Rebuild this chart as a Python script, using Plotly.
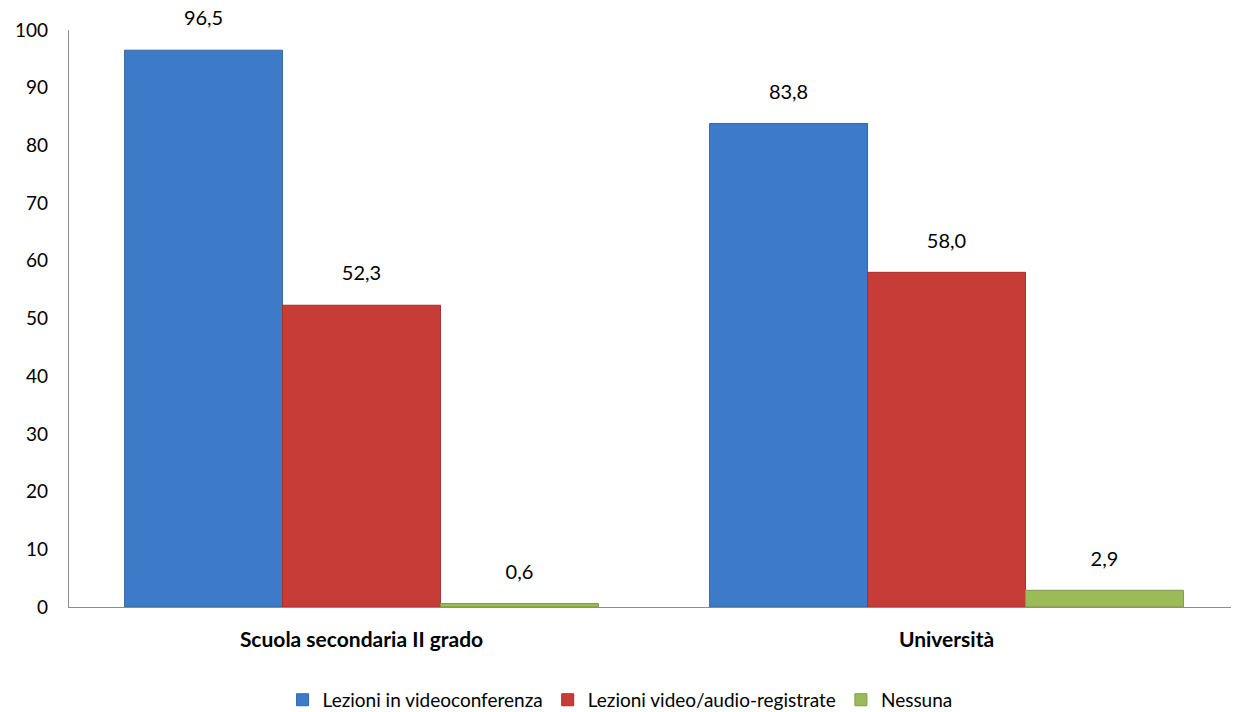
import plotly.graph_objects as go

categories = ["Scuola secondaria II grado", "Università"]
series_names = ["Lezioni in videoconferenza", "Lezioni video/audio-registrate", "Nessuna"]
video_conf = [96.5, 83.8]
registrate = [52.3, 58.0]
nessuna = [0.6, 2.9]
y_ticks = [0, 10, 20, 30, 40, 50, 60, 70, 80, 90, 100]

values = [video_conf, registrate, nessuna]
colors = ["#3D7BC8", "#C83C37", "#9BBB59"]
lines = ["#3567A8", "#A5312E", "#7F9A45"]

FONT = "Lato, 'Open Sans', sans-serif"

fig = go.Figure()
for i, (name, vals, c, lc) in enumerate(zip(series_names, values, colors, lines)):
    fig.add_trace(go.Bar(
        name=name, x=categories, y=vals,
        offsetgroup=str(i),
        marker=dict(color=c, line=dict(color=lc, width=1)),
    ))
for i, (name, vals) in enumerate(zip(series_names, values)):
    fig.add_trace(go.Scatter(
        x=categories, y=vals, mode="markers+text",
        offsetgroup=str(i),
        marker=dict(size=30, opacity=0),
        text=[f"{v:.1f}".replace(".", ",") for v in vals],
        textposition="top center",
        textfont=dict(size=20, color="#000000", family=FONT),
        showlegend=False, hoverinfo="skip", cliponaxis=False,
    ))

fig.update_layout(
    barmode="group",
    bargap=0.19,
    bargroupgap=0,
    scattermode="group",
    scattergap=0.19,
    width=1239, height=712,
    margin=dict(l=61, r=8, t=22, b=113, autoexpand=False),
    paper_bgcolor="white", plot_bgcolor="white",
    font=dict(family=FONT, size=19, color="#000000"),
    legend=dict(orientation="h", x=0.471, xanchor="center",
                y=-0.161, yanchor="middle",
                font=dict(size=19, family=FONT), traceorder="normal"),
    showlegend=True,
)
fig.update_yaxes(range=[0, 100], tickvals=y_ticks, showgrid=False, zeroline=False,
                 automargin=False,
                 showline=True, linecolor="#8C8C8C", linewidth=1.2,
                 ticks="outside", ticklen=16, tickcolor="rgba(0,0,0,0)",
                 tickfont=dict(size=19, family=FONT))
fig.update_xaxes(showline=True, linecolor="#8C8C8C", linewidth=1.2, automargin=False,
                 ticks="outside", ticklen=14, tickcolor="rgba(0,0,0,0)",
                 tickfont=dict(size=21, family=FONT, weight="bold"))

fig.write_html("out.html")
